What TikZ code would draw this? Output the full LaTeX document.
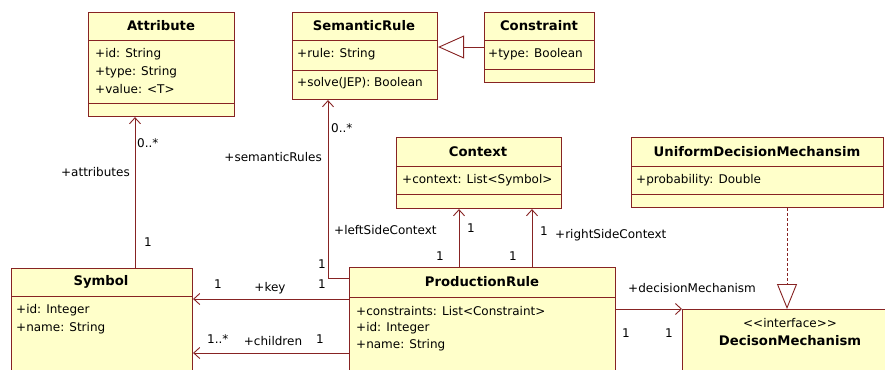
\documentclass[tikz,border=0pt]{standalone}
\usepackage{fontspec}
\setmainfont{DejaVu Sans}
\usetikzlibrary{arrows.meta}
\definecolor{umlfill}{RGB}{255,255,202}
\definecolor{umlline}{RGB}{135,35,35}
\begin{document}
\begin{tikzpicture}[x=1pt,y=-1pt,
  cls/.style={draw=umlline, fill=umlfill, line width=1.1pt, anchor=north west, inner sep=0pt},
  sepline/.style={draw=umlline, line width=1pt},
  title/.style={font=\fontsize{13.2}{15}\selectfont\bfseries, inner sep=0pt},
  attr/.style={font=\fontsize{12}{14}\selectfont, anchor=west, inner sep=0pt},
  lbl/.style={font=\fontsize{12}{14}\selectfont, inner sep=0pt},
  assoc/.style={draw=umlline, line width=0.9pt, -{Straight Barb[length=6pt,width=11pt]}},
  gen/.style={draw=umlline, line width=0.9pt, -{Triangle[open,length=26pt,width=23pt,fill=white]}},
  realz/.style={draw=umlline, line width=0.9pt, dash pattern=on 3pt off 2pt, -{Triangle[open,length=25pt,width=20pt,fill=white]}}
]
\useasboundingbox (0,0) rectangle (885,369);
\clip (0,0) rectangle (885,369);
\fill[white] (0,0) rectangle (885,369);

% class boxes
\node[cls, minimum width=146pt, minimum height=104pt] (attrib) at (88,12) {};
\node[cls, minimum width=145pt, minimum height=87pt] (sem) at (292,12) {};
\node[cls, minimum width=110pt, minimum height=70pt] (con) at (484,12) {};
\node[cls, minimum width=165pt, minimum height=71pt] (ctx) at (396,137) {};
\node[cls, minimum width=252pt, minimum height=70pt] (udm) at (631,137) {};
\node[cls, minimum width=181pt, minimum height=140pt] (sym) at (11,268) {};
\node[cls, minimum width=266pt, minimum height=140pt] (prod) at (349,267) {};
\node[cls, minimum width=260pt, minimum height=100pt] (dm) at (682,309) {};

% compartments
\draw[sepline] (attrib.west |- 0,41) -- (attrib.east |- 0,41);
\draw[sepline] (attrib.west |- 0,103) -- (attrib.east |- 0,103);
\draw[sepline] (sem.west |- 0,41) -- (sem.east |- 0,41);
\draw[sepline] (sem.west |- 0,70) -- (sem.east |- 0,70);
\draw[sepline] (con.west |- 0,41) -- (con.east |- 0,41);
\draw[sepline] (con.west |- 0,69) -- (con.east |- 0,69);
\draw[sepline] (ctx.west |- 0,166) -- (ctx.east |- 0,166);
\draw[sepline] (ctx.west |- 0,194) -- (ctx.east |- 0,194);
\draw[sepline] (udm.west |- 0,166) -- (udm.east |- 0,166);
\draw[sepline] (udm.west |- 0,194) -- (udm.east |- 0,194);
\draw[sepline] (sym.west |- 0,296) -- (sym.east |- 0,296);
\draw[sepline] (prod.west |- 0,297) -- (prod.east |- 0,297);

% titles
\node[title] (tAttr) at (161,26) {Attribute};
\node[title] (tSem) at (364,26) {SemanticRule};
\node[title] (tCon) at (539,26) {Constraint};
\node[title] (tCtx) at (478,152) {Context};
\node[title] (tUdm) at (757,152) {UniformDecisionMechansim};
\node[title] (tSym) at (101,282) {Symbol};
\node[title] (tProd) at (482,282) {ProductionRule};
\node[lbl] (tIf) at (790,323) {<{}<interface>{}>};
\node[title] (tDm) at (790,341) {DecisonMechanism};

% attributes
\node[attr] (a1) at (95,54) {+id: String};
\node[attr] (a2) at (95,72) {+type: String};
\node[attr] (a3) at (95,89) {+value: <T>};
\node[attr] (s1) at (297,54) {+rule: String};
\node[attr] (s2) at (297,83) {+solve(JEP): Boolean};
\node[attr] (c1) at (488,54) {+type: Boolean};
\node[attr] (x1) at (402,180) {+context: List<Symbol>};
\node[attr] (u1) at (636,180) {+probability: Double};
\node[attr] (y1) at (16,310) {+id: Integer};
\node[attr] (y2) at (16,328) {+name: String};
\node[attr] (p1) at (356,311) {+constraints: List<Constraint>};
\node[attr] (p2) at (356,328) {+id: Integer};
\node[attr] (p3) at (356,345) {+name: String};

% connectors
\draw[assoc] (sym.north -| 135,0) -- (attrib.south -| 135,0);
\draw[assoc] (prod.west |- 0,278) -| (sem.south -| 328,0);
\draw[assoc] (prod.west |- 0,299) -- (sym.east |- 0,299);
\draw[assoc] (prod.west |- 0,353) -- (sym.east |- 0,353);
\draw[assoc] (prod.north -| 459,0) -- (ctx.south -| 459,0);
\draw[assoc] (prod.north -| 532,0) -- (ctx.south -| 532,0);
\draw[assoc] (prod.east |- 0,309) -- (dm.west |- 0,309);
\draw[gen] (con.west |- 0,47) -- (sem.east |- 0,47);
\draw[realz] (udm.south -| 787,0) -- (dm.north -| 787,0);

% labels
\node[lbl, anchor=west] (l1) at (137,143) {0..*};
\node[lbl, anchor=east] (l2) at (130,172) {+attributes};
\node[lbl] (l3) at (148,242) {1};
\node[lbl, anchor=east] (l4) at (322,157) {+semanticRules};
\node[lbl, anchor=west] (l5) at (331,128) {0..*};
\node[lbl, anchor=west] (l6) at (334,230) {+leftSideContext};
\node[lbl] (l7) at (322,264) {1};
\node[lbl] (l8) at (322,284) {1};
\node[lbl] (l9) at (218,284) {1};
\node[lbl] (l10) at (270,288) {+key};
\node[lbl, anchor=west] (l11) at (207,339) {1..*};
\node[lbl] (l12) at (273,341) {+children};
\node[lbl] (l13) at (320,339) {1};
\node[lbl] (l14) at (471,228) {1};
\node[lbl] (l15) at (544,231) {1};
\node[lbl, anchor=west] (l16) at (555,235) {+rightSideContext};
\node[lbl] (l17) at (440,256) {1};
\node[lbl] (l18) at (513,256) {1};
\node[lbl, anchor=west] (l19) at (628,288) {+decisionMechanism};
\node[lbl] (l20) at (626,333) {1};
\node[lbl] (l21) at (669,333) {1};
\end{tikzpicture}
\end{document}
